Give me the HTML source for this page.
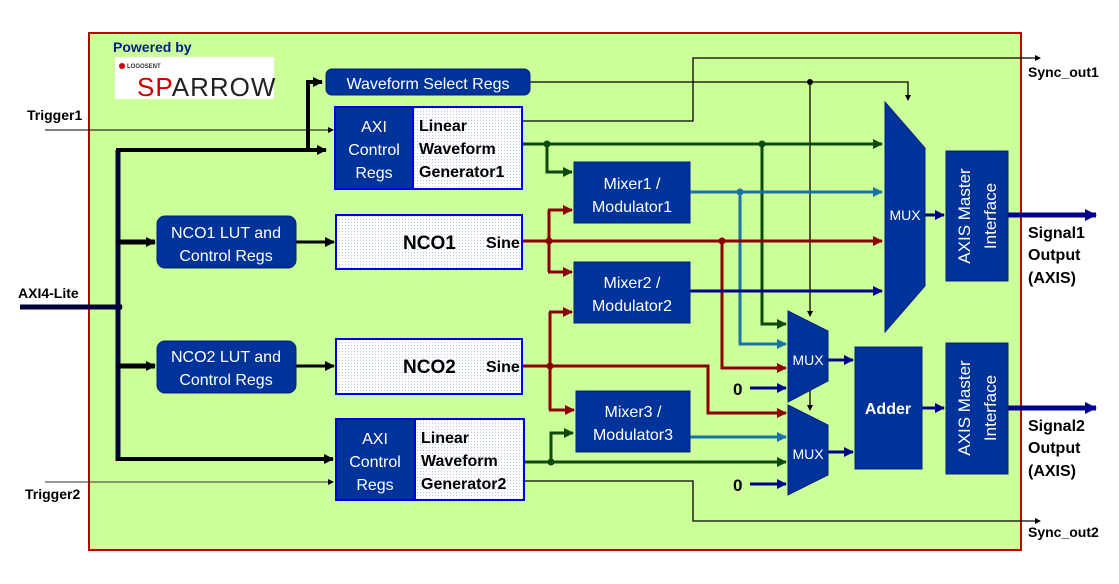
<!DOCTYPE html>
<html><head><meta charset="utf-8"><style>
body{margin:0;background:#fff}
svg text{font-family:"Liberation Sans",sans-serif}
.w{fill:#fff}
.b{fill:#000;font-weight:bold}
</style></head><body>
<svg width="1119" height="579" viewBox="0 0 1119 579" xmlns="http://www.w3.org/2000/svg">
<defs>
<pattern id="dots" width="3" height="3" patternUnits="userSpaceOnUse"><rect width="3" height="3" fill="#fff"/><rect width="1" height="1" fill="#b8c8e8"/></pattern>
<marker id="ak" markerWidth="6" markerHeight="6" refX="5" refY="3" orient="auto" markerUnits="userSpaceOnUse"><path d="M0,0L6,3L0,6z" fill="#000"/></marker>
<marker id="ak2" markerWidth="10" markerHeight="10" refX="9" refY="5" orient="auto" markerUnits="userSpaceOnUse"><path d="M0,0L10,5L0,10z" fill="#000"/></marker>
<marker id="ag" markerWidth="10" markerHeight="10" refX="9" refY="5" orient="auto" markerUnits="userSpaceOnUse"><path d="M0,0L10,5L0,10z" fill="#0b4a0b"/></marker>
<marker id="ar" markerWidth="10" markerHeight="10" refX="9" refY="5" orient="auto" markerUnits="userSpaceOnUse"><path d="M0,0L10,5L0,10z" fill="#8b0000"/></marker>
<marker id="at" markerWidth="10" markerHeight="10" refX="9" refY="5" orient="auto" markerUnits="userSpaceOnUse"><path d="M0,0L10,5L0,10z" fill="#1a73a6"/></marker>
<marker id="an" markerWidth="10" markerHeight="10" refX="9" refY="5" orient="auto" markerUnits="userSpaceOnUse"><path d="M0,0L10,5L0,10z" fill="#00008b"/></marker>
<marker id="an2" markerWidth="12" markerHeight="12" refX="11" refY="6" orient="auto" markerUnits="userSpaceOnUse"><path d="M0,0L12,6L0,12z" fill="#00008b"/></marker>
</defs>
<rect x="89" y="33" width="932" height="517" fill="#ccff99" stroke="#c00000" stroke-width="2"/>
<text x="113" y="52" fill="#002080" style="font-size:14px;font-weight:bold">Powered by</text>
<rect x="115" y="57" width="159" height="42" fill="#fff"/>
<text x="127" y="68" fill="#333" style="font-size:6px;font-weight:bold">LOGOSENT</text>
<circle cx="122" cy="66" r="3" fill="#c00"/>
<text x="137" y="96" fill="#222" style="font-size:26px" letter-spacing="1"><tspan fill="#c00">SP</tspan>ARROW</text>

<g fill="none" stroke="#000">
<line x1="45" y1="130" x2="333" y2="130" stroke-width="1" marker-end="url(#ak)"/>
<line x1="45" y1="482" x2="333" y2="482" stroke-width="1" stroke="#333" marker-end="url(#ak)"/>
<line x1="20" y1="307" x2="122" y2="307" stroke-width="5" stroke="#00003a" marker-end="url(#ak)"/>
<line x1="118" y1="150" x2="118" y2="461" stroke-width="5" stroke="#00003a"/>
<polyline points="116,150 326,150" stroke-width="4" marker-end="url(#ak2)"/>
<polyline points="308,150 308,82 322,82" stroke-width="4" marker-end="url(#ak2)"/>
<line x1="118" y1="242" x2="155" y2="242" stroke-width="5" marker-end="url(#ak2)"/>
<line x1="118" y1="366" x2="155" y2="366" stroke-width="5" marker-end="url(#ak2)"/>
<line x1="116" y1="459" x2="333" y2="459" stroke-width="4" marker-end="url(#ak2)"/>
<line x1="296" y1="242" x2="334" y2="242" stroke-width="3" marker-end="url(#ak2)"/>
<line x1="296" y1="366" x2="334" y2="366" stroke-width="3" marker-end="url(#ak2)"/>
</g>
<text class="b" x="27" y="120" style="font-size:14px">Trigger1</text>
<text class="b" x="18" y="298" style="font-size:14px">AXI4-Lite</text>
<text class="b" x="25" y="499" style="font-size:14px">Trigger2</text>

<g fill="none" stroke="#000" stroke-width="1.3">
<polyline points="522,121 693,121 693,58 1040,58" marker-end="url(#ak)"/>
<polyline points="522,481 693,481 693,521 1040,521" marker-end="url(#ak)"/>
<polyline points="530,82 908,82 908,100" marker-end="url(#ak)"/>
<polyline points="810,82 810,316" marker-end="url(#ak)"/>
<polyline points="810,385 810,410" marker-end="url(#ak)"/>
</g>
<circle cx="810" cy="82" r="3"/>
<text class="b" x="1028" y="77" style="font-size:14px">Sync_out1</text>
<text class="b" x="1028" y="537" style="font-size:14px">Sync_out2</text>

<g fill="none" stroke="#0b4a0b" stroke-width="3">
<line x1="522" y1="144" x2="882" y2="144" marker-end="url(#ag)"/>
<polyline points="547,144 547,172 572,172" marker-end="url(#ag)"/>
<polyline points="762,144 762,324 786,324" marker-end="url(#ag)"/>
<line x1="522" y1="462" x2="786" y2="462" marker-end="url(#ag)"/>
<polyline points="551,462 551,433 573,433" marker-end="url(#ag)"/>
</g>
<g fill="#0b4a0b"><circle cx="547" cy="144" r="3.5"/><circle cx="762" cy="144" r="3.5"/><circle cx="551" cy="462" r="3.5"/></g>
<g fill="none" stroke="#1a73a6" stroke-width="3">
<line x1="690" y1="192" x2="882" y2="192" marker-end="url(#at)"/>
<polyline points="740,192 740,344 786,344" marker-end="url(#at)"/>
<line x1="690" y1="437" x2="786" y2="437" marker-end="url(#at)"/>
</g>
<circle cx="740" cy="192" r="3.5" fill="#1a73a6"/>
<g fill="none" stroke="#8b0000" stroke-width="3">
<line x1="522" y1="241" x2="882" y2="241" marker-end="url(#ar)"/>
<polyline points="549,210 549,272" />
<line x1="548" y1="210" x2="572" y2="210" marker-end="url(#ar)"/>
<line x1="548" y1="272" x2="572" y2="272" marker-end="url(#ar)"/>
<polyline points="722,241 722,368 786,368" marker-end="url(#ar)"/>
<polyline points="522,366 708,366 708,413 786,413" marker-end="url(#ar)"/>
<polyline points="550,312 550,410"/>
<line x1="549" y1="312" x2="572" y2="312" marker-end="url(#ar)"/>
<line x1="549" y1="410" x2="574" y2="410" marker-end="url(#ar)"/>
</g>
<g fill="#8b0000"><circle cx="549" cy="241" r="3.5"/><circle cx="722" cy="241" r="3.5"/><circle cx="550" cy="366" r="3.5"/></g>
<g fill="none" stroke="#00008b" stroke-width="3">
<line x1="690" y1="291" x2="882" y2="291" marker-end="url(#an)"/>
<line x1="750" y1="388" x2="786" y2="388" marker-end="url(#an)"/>
<line x1="750" y1="484" x2="786" y2="484" marker-end="url(#an)"/>
<line x1="828" y1="360" x2="853" y2="360" marker-end="url(#an)"/>
<line x1="828" y1="452" x2="853" y2="452" marker-end="url(#an)"/>
<line x1="922" y1="408" x2="944" y2="408" marker-end="url(#an)"/>
<line x1="925" y1="215" x2="944" y2="215" marker-end="url(#an)"/>
<line x1="1008" y1="215" x2="1096" y2="215" stroke-width="5" marker-end="url(#an2)"/>
<line x1="1008" y1="408" x2="1096" y2="408" stroke-width="5" marker-end="url(#an2)"/>
</g>
<text class="b" x="733" y="395" style="font-size:17px">0</text>
<text class="b" x="733" y="491" style="font-size:17px">0</text>

<g fill="#003399" stroke="#002277">
<rect x="326" y="69" width="204" height="26" rx="6"/>
<rect x="157" y="216" width="139" height="52" rx="8"/>
<rect x="157" y="341" width="139" height="52" rx="8"/>
<rect x="574" y="162" width="116" height="61"/>
<rect x="574" y="262" width="116" height="61"/>
<rect x="576" y="391" width="114" height="61"/>
<rect x="855" y="347" width="67" height="122"/>
<rect x="946" y="151" width="62" height="130"/>
<rect x="946" y="343" width="62" height="131"/>
<polygon points="885,102 925,148 925,286 885,332"/>
<polygon points="788,311 828,331 828,381 788,402"/>
<polygon points="788,405 828,425 828,475 788,495"/>
</g>
<g stroke="#0000ee" stroke-width="2">
<rect x="335" y="107" width="187" height="82" fill="url(#dots)"/>
<rect x="335" y="107" width="78" height="82" fill="#003399"/>
<rect x="336" y="215" width="186" height="54" fill="url(#dots)"/>
<rect x="336" y="339" width="186" height="55" fill="url(#dots)"/>
<rect x="336" y="419" width="188" height="81" fill="url(#dots)"/>
<rect x="336" y="419" width="79" height="81" fill="#003399"/>
</g>
<g class="w" text-anchor="middle" style="font-size:16px">
<text x="428" y="89">Waveform Select Regs</text>
<text x="226" y="238">NCO1 LUT and</text><text x="226" y="261">Control Regs</text>
<text x="226" y="362">NCO2 LUT and</text><text x="226" y="385">Control Regs</text>
<text x="374" y="132">AXI</text><text x="374" y="155">Control</text><text x="374" y="178">Regs</text>
<text x="375" y="444">AXI</text><text x="375" y="467">Control</text><text x="375" y="490">Regs</text>
<text x="632" y="189">Mixer1 /</text><text x="632" y="212">Modulator1</text>
<text x="632" y="288">Mixer2 /</text><text x="632" y="311">Modulator2</text>
<text x="633" y="417">Mixer3 /</text><text x="633" y="440">Modulator3</text>
<text x="905" y="220" style="font-size:14px">MUX</text>
<text x="808" y="365" style="font-size:14px">MUX</text>
<text x="808" y="459" style="font-size:14px">MUX</text>
<text x="888" y="414" style="font-weight:bold">Adder</text>
<text transform="translate(970,216) rotate(-90)" style="font-size:17px">AXIS Master</text>
<text transform="translate(996,216) rotate(-90)" style="font-size:17px">Interface</text>
<text transform="translate(970,408) rotate(-90)" style="font-size:17px">AXIS Master</text>
<text transform="translate(996,408) rotate(-90)" style="font-size:17px">Interface</text>
</g>
<g class="b" style="font-size:16px">
<text x="419" y="131">Linear</text><text x="419" y="154">Waveform</text><text x="419" y="177">Generator1</text>
<text x="421" y="443">Linear</text><text x="421" y="466">Waveform</text><text x="421" y="489">Generator2</text>
<text x="403" y="249" style="font-size:19px">NCO1</text><text x="486" y="248">Sine</text>
<text x="403" y="373" style="font-size:19px">NCO2</text><text x="486" y="372">Sine</text>
<text x="1028" y="238">Signal1</text><text x="1028" y="260">Output</text><text x="1028" y="283">(AXIS)</text>
<text x="1028" y="431">Signal2</text><text x="1028" y="453">Output</text><text x="1028" y="476">(AXIS)</text>
</g>
</svg>
</body></html>
